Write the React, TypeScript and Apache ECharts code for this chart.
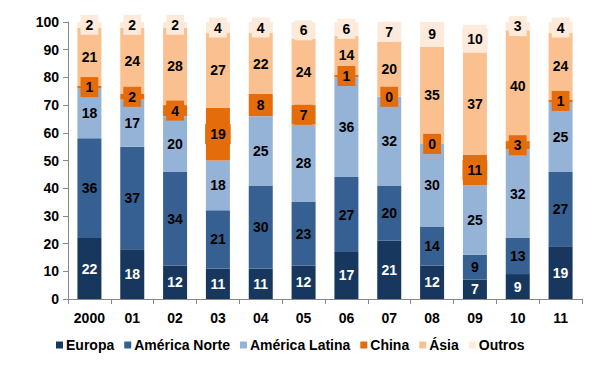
import React, { useEffect, useRef } from "react";
import * as echarts from "echarts";

const categories = ["2000", "01", "02", "03", "04", "05", "06", "07", "08", "09", "10", "11"];
const europa = [22, 18, 12, 11, 11, 12, 17, 21, 12, 7, 9, 19];
const americaNorte = [36, 37, 34, 21, 30, 23, 27, 20, 14, 9, 13, 27];
const americaLatina = [18, 17, 20, 18, 25, 28, 36, 32, 30, 25, 32, 25];
const china = [1, 2, 4, 19, 8, 7, 1, 0, 0, 11, 3, 1];
const asia = [21, 24, 28, 27, 22, 24, 14, 20, 35, 37, 40, 24];
const outros = [2, 2, 2, 4, 4, 6, 6, 7, 9, 10, 3, 4];
const yTicks = [0, 10, 20, 30, 40, 50, 60, 70, 80, 90, 100];

const FONT = "'Liberation Sans', Arial, sans-serif";

export default function App() {
  const ref = useRef<HTMLDivElement>(null);
  useEffect(() => {
    const chart = echarts.init(ref.current!, null, { renderer: "svg" });
    const mk = (name: string, data: number[], color: string, labelColor: string, bg?: string) => ({
      name,
      type: "bar",
      stack: "total",
      data,
      barWidth: 24,
      itemStyle: { color },
      label: {
        show: true,
        position: "inside",
        color: labelColor,
        fontFamily: FONT,
        fontWeight: "bold",
        fontSize: 14,
        formatter: (p: any) => String(p.value),
        ...(bg ? { backgroundColor: bg, padding: [4, 5, 2, 5] } : {}),
      },
    });
    chart.setOption({
      animation: false,
      grid: { left: 68, right: 23, top: 22, bottom: 68 },
      legend: {
        bottom: 10,
        left: 51,
        icon: "rect",
        itemWidth: 7,
        itemHeight: 7,
        itemGap: 10,
        textStyle: { fontFamily: FONT, fontWeight: "bold", fontSize: 14, color: "#000", padding: [0, 0, 0, -2] },
        data: ["Europa", "América Norte", "América Latina", "China", "Ásia", "Outros"],
      },
      xAxis: {
        type: "category",
        data: categories,
        axisLine: { lineStyle: { color: "#888" } },
        axisTick: { show: true, alignWithLabel: false, length: 5, lineStyle: { color: "#888" } },
        axisLabel: { fontFamily: FONT, fontWeight: "bold", fontSize: 14, color: "#000", margin: 12 },
      },
      yAxis: {
        type: "value",
        min: yTicks[0],
        max: yTicks[yTicks.length - 1],
        interval: 10,
        splitLine: { show: false },
        axisLine: { show: true, lineStyle: { color: "#888" } },
        axisTick: { show: true, length: 5, lineStyle: { color: "#888" } },
        axisLabel: { fontFamily: FONT, fontWeight: "bold", fontSize: 14, color: "#000", margin: 9 },
      },
      series: [
        mk("Europa", europa, "#17375E", "#fff"),
        mk("América Norte", americaNorte, "#376092", "#000"),
        mk("América Latina", americaLatina, "#95B3D7", "#000"),
        mk("China", china, "#E46C0A", "#000", "#E46C0A"),
        mk("Ásia", asia, "#FAC090", "#000"),
        mk("Outros", outros, "#FDEADA", "#000", "#FDEADA"),
      ],
    });
    return () => chart.dispose();
  }, []);
  return <div ref={ref} style={{ width: 605, height: 367, position: "absolute", left: 0, top: 0 }} />;
}
